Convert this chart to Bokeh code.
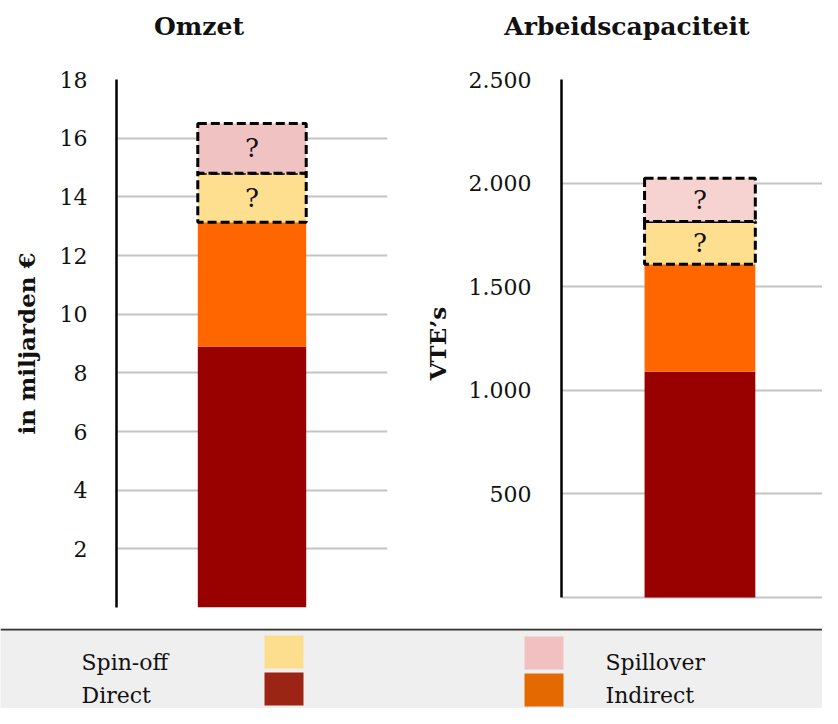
from bokeh.plotting import figure
from bokeh.models import Range1d, FixedTicker, Span
from bokeh.layouts import column, row
from bokeh.embed import file_html
from bokeh.resources import INLINE
from bokeh.core.properties import value

# ---------------- data ----------------
series = ["Direct", "Indirect", "Spin-off", "Spillover"]
omzet_values = [8.9, 4.23, 1.67, 1.7]          # miljarden euro (stacked segments)
fte_values = [1090, 518, 207, 208]             # VTE's (stacked segments)
unknown = [False, False, True, True]           # segments drawn dashed with "?"

titles = ["Omzet", "Arbeidscapaciteit"]
ylabels = ["in miljarden €", "VTE’s"]
omzet_ticks = [0, 2, 4, 6, 8, 10, 12, 14, 16, 18]
omzet_tick_labels = ["", "2", "4", "6", "8", "10", "12", "14", "16", "18"]
fte_ticks = [0, 500, 1000, 1500, 2000, 2500]
fte_tick_labels = ["", "500", "1.000", "1.500", "2.000", "2.500"]

bar_colors_left = ["#990000", "#FF6600", "#FEDF90", "#F1C2C2"]
bar_colors_right = ["#990000", "#FF6600", "#FEDF90", "#F6D3D1"]
legend_colors = ["#9C2415", "#E36900", "#FDDE8E", "#F1C1C1"]

SERIF = "DejaVu Serif"
TITLE_H = 44


def make_chart(ylabel, vals, ticks, labels, colors, width, height,
               border_left, border_right, x_end, y_start, ymax,
               label_standoff, tick_standoff):
    p = figure(width=width, height=height, output_backend="svg",
               toolbar_location=None, x_range=Range1d(0, x_end),
               y_range=Range1d(y_start, ymax),
               min_border_left=border_left, min_border_right=border_right,
               min_border_top=79 - TITLE_H, min_border_bottom=21)
    p.outline_line_color = None
    p.background_fill_color = "white"
    p.border_fill_color = "white"
    p.xaxis.visible = False
    p.xgrid.visible = False
    p.ygrid.grid_line_color = "#C4C4C4"
    p.ygrid.grid_line_width = 2

    ax = p.yaxis[0]
    ax.ticker = FixedTicker(ticks=ticks)
    ax.bounds = (0, ymax)
    ax.major_label_overrides = {t: l for t, l in zip(ticks, labels)}
    ax.major_tick_out = 0
    ax.major_tick_in = 0
    ax.minor_tick_out = 0
    ax.minor_tick_in = 0
    ax.axis_line_color = "black"
    ax.axis_line_width = 2.5
    ax.major_label_text_font = SERIF
    ax.major_label_text_font_size = "22px"
    ax.major_label_text_color = "#111111"
    ax.major_label_standoff = tick_standoff
    ax.axis_label = ylabel
    ax.axis_label_text_font = SERIF
    ax.axis_label_text_font_size = "23px"
    ax.axis_label_text_font_style = "bold"
    ax.axis_label_text_color = "#111111"
    ax.axis_label_standoff = label_standoff

    bottom = 0
    for name, v, c, unk in zip(series, vals, colors, unknown):
        top = bottom + v
        if unk:
            p.vbar(x=0.5, width=0.4, bottom=bottom, top=top, fill_color=c,
                   line_color="black", line_width=3, line_dash="9 4")
            p.text(x=[0.5], y=[(bottom + top) / 2], text=["?"],
                   text_font=value(SERIF), text_font_size="26px",
                   text_align="center", text_baseline="middle",
                   text_color="#111111")
        else:
            p.vbar(x=0.5, width=0.4, bottom=bottom, top=top, fill_color=c,
                   line_color=None)
        bottom = top
    return p


# left frame: 528 px for 0..18; right frame: 518 px for 0..2500, same frame box,
# so the right value range starts slightly below zero (10 px of empty space)
p1 = make_chart(ylabels[0], omzet_values, omzet_ticks, omzet_tick_labels,
                bar_colors_left, 420, 628 - TITLE_H, 116, 33, 1.0, 0, 18, 17, 29)
p2 = make_chart(ylabels[1], fte_values, fte_ticks, fte_tick_labels,
                bar_colors_right, 402, 628 - TITLE_H, 139, 0, 263 / 279,
                -2500 * 10 / 518, 2500, 15, 30)

# ---------------- title strip ----------------
ts = figure(width=822, height=TITLE_H, output_backend="svg",
            toolbar_location=None, x_range=Range1d(0, 822),
            y_range=Range1d(0, TITLE_H), min_border=0, min_border_left=0,
            min_border_right=0, min_border_top=0, min_border_bottom=0)
ts.axis.visible = False
ts.grid.visible = False
ts.outline_line_color = None
ts.background_fill_color = "white"
ts.border_fill_color = "white"
ts.text(x=[198.5, 626.5], y=[18, 18], text=titles, text_font=value(SERIF),
        text_font_size="25px", text_font_style="bold", text_align="center",
        text_baseline="middle", text_color="#111111")

# ---------------- legend strip ----------------
lg = figure(width=822, height=80, output_backend="svg", toolbar_location=None,
            x_range=Range1d(0, 822), y_range=Range1d(0, 80),
            min_border=0, min_border_left=0, min_border_right=0,
            min_border_top=0, min_border_bottom=0)
lg.axis.visible = False
lg.grid.visible = False
lg.outline_line_color = None
lg.background_fill_color = "#EFEFEF"
lg.border_fill_color = "#EFEFEF"
lg.add_layout(Span(location=79, dimension="width", line_color="#333333",
                   line_width=2))

# legend layout: (series index, swatch left, swatch top, text x, text baseline)
legend_layout = [
    (2, 264, 73, 81, 46),   # Spin-off
    (0, 264, 36, 81, 13),   # Direct
    (3, 524, 72, 605, 46),  # Spillover
    (1, 524, 35, 605, 13),  # Indirect
]
for idx, sx, sy, tx, ty in legend_layout:
    lg.quad(left=sx, right=sx + 39, top=sy, bottom=sy - 33,
            fill_color=legend_colors[idx], line_color=None)
    lg.text(x=[tx], y=[ty], text=[series[idx]], text_font=value(SERIF),
            text_font_size="22px", text_align="left",
            text_baseline="alphabetic", text_color="#111111")

layout = column(ts, row(p1, p2), lg)
open("out.html", "w").write(file_html(layout, INLINE))
